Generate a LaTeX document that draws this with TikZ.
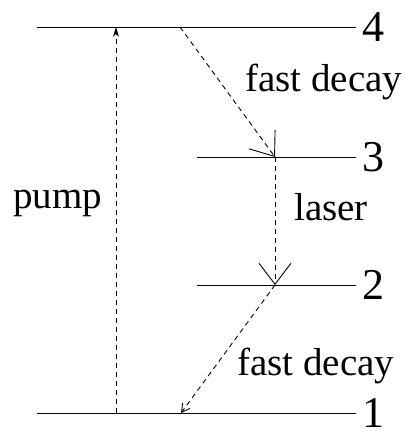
\documentclass[tikz,border=0pt]{standalone}
\usepackage{fontspec}
\setmainfont{Liberation Serif}
\usetikzlibrary{arrows.meta}
\begin{document}
\begin{tikzpicture}[x=1pt,y=-1pt,
  level/.style={line width=0.9pt},
  trans/.style={line width=0.9pt, dash pattern=on 5pt off 4pt},
  lbl/.style={font=\fontsize{39}{41}\selectfont, inner sep=0pt, anchor=base west},
  num/.style={font=\fontsize{44}{46}\selectfont, inner sep=0pt, anchor=west},
  bigv/.style={-{Straight Barb[length=21pt,width=32pt]}},
  smallhead/.style={-{Stealth[length=10pt,width=6pt]}},
  openhead/.style={-{Straight Barb[length=8pt,width=9pt]}},
]
\useasboundingbox (0,0) rectangle (406,432);
% levels
\coordinate (L4a) at (37,27);  \coordinate (L4b) at (356,27);
\coordinate (L3a) at (197,157); \coordinate (L3b) at (356,157);
\coordinate (L2a) at (197,285); \coordinate (L2b) at (356,285);
\coordinate (L1a) at (37,413); \coordinate (L1b) at (356,413);
\draw[level] (L4a) -- (L4b);
\draw[level] (L3a) -- (L3b);
\draw[level] (L2a) -- (L2b);
\draw[level] (L1a) -- (L1b);
\node[num] (n4) at (362,27) {4};
\node[num] (n3) at (362,157) {3};
\node[num] (n2) at (362,285) {2};
\node[num] (n1) at (362,413) {1};
% transition points
\coordinate (p1) at (116,413);
\coordinate (p4) at (116,27);
\coordinate (f4) at (180,27);
\coordinate (x3) at (275,157);
\coordinate (x2) at (275,285);
\coordinate (f1) at (181,413);
\draw[trans,smallhead] (p1) -- (p4);
\draw[trans,bigv] (f4) -- (x3);
\draw[trans,bigv] (x3) -- (x2);
\draw[trans,openhead] (x2) -- (f1);
% labels
\node[lbl] (tfd1) at (245,91) {fast decay};
\node[lbl] (tlaser) at (294,220) {laser};
\node[lbl] (tpump) at (13,208) {pump};
\node[lbl] (tfd2) at (237,375) {fast decay};
\end{tikzpicture}
\end{document}
